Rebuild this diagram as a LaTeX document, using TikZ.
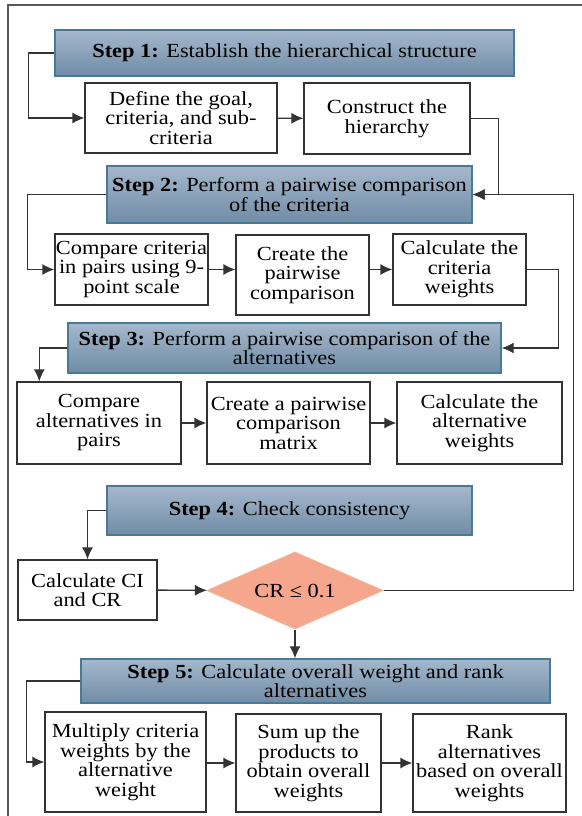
\documentclass[tikz,border=0pt]{standalone}
\usepackage{fontspec}
\setmainfont{Liberation Serif}[FakeStretch=1.12]
\usepackage{tikz}
\usetikzlibrary{arrows.meta,shapes,calc}
\definecolor{stepfill}{RGB}{165,184,204}
\definecolor{stepdark}{RGB}{112,140,166}
\definecolor{stepedge}{RGB}{72,122,152}
\definecolor{crfill}{RGB}{245,166,140}
\definecolor{credge}{RGB}{240,180,150}

\begin{document}
\begin{tikzpicture}[x=1pt,y=-1pt,>={Latex[length=12pt,width=11pt]},font=\fontsize{20}{19.5}\selectfont]
  \tikzstyle{stepbox}=[rectangle,draw=stepedge,line width=1.4pt,top color=stepfill,
  			  bottom color=stepdark,align=center,inner sep=1pt]
  \tikzstyle{task}=[rectangle,draw=black!80,line width=1.2pt,fill=white,
  			  align=center,inner sep=1pt]
  \tikzstyle{check}=[diamond,draw=credge,line width=1pt,fill=crfill,
  			  shape aspect=2.3,inner sep=0pt]
  \tikzstyle{link}=[draw=black!80,line width=1.4pt]
  \useasboundingbox (0,0) rectangle (581,816);
  \draw[black!65,line width=1.3pt] (8,5) rectangle (590,830);

  % step 1
  \node [stepbox,minimum width=459,minimum height=46] (s1) at (284.5,53) {\textbf{Step 1:} Establish the hierarchical structure};
  \node [task,minimum width=192,minimum height=70] (d1) at (181,118) {Define the goal,\\criteria, and sub-\\criteria};
  \node [task,minimum width=166,minimum height=71] (d2) at (387,118.5) {Construct the\\hierarchy};

  % step 2
  \node [stepbox,minimum width=365,minimum height=57] (s2) at (289.5,194.5) {\textbf{Step 2:} Perform a pairwise comparison\\of the criteria};
  \node [task,minimum width=153,minimum height=71] (c1) at (131.5,269.5) {Compare criteria\\in pairs using 9-\\point scale};
  \node [task,minimum width=133,minimum height=80] (c2) at (302.5,275) {Create the\\pairwise\\comparison};
  \node [task,minimum width=133,minimum height=71] (c3) at (459.5,269.5) {Calculate the\\criteria\\weights};

  % step 3
  \node [stepbox,minimum width=433,minimum height=50] (s3) at (284.5,348) {\textbf{Step 3:} Perform a pairwise comparison of the\\alternatives};
  \node [task,minimum width=164,minimum height=82] (a1) at (99,423) {Compare\\alternatives in\\pairs};
  \node [task,minimum width=163,minimum height=82] (a2) at (288.5,423) {Create a pairwise\\comparison\\matrix};
  \node [task,minimum width=165,minimum height=82] (a3) at (479.5,423) {Calculate the\\alternative\\weights};

  % step 4
  \node [stepbox,minimum width=365,minimum height=49] (s4) at (289.5,510.5) {\textbf{Step 4:} Check consistency};
  \node [task,minimum width=139,minimum height=60] (ci) at (87.5,590) {Calculate CI\\and CR};
  \node [check,minimum width=176,minimum height=77] (cr) at (295,590.5) {CR ≤ 0.1};

  % step 5
  \node [stepbox,minimum width=469,minimum height=44] (s5) at (315.5,681) {\textbf{Step 5:} Calculate overall weight and rank\\alternatives};
  \node [task,minimum width=161,minimum height=100] (m1) at (125.5,762) {Multiply criteria\\weights by the\\alternative\\weight};
  \node [task,minimum width=145,minimum height=98] (m2) at (308.5,763) {Sum up the\\products to\\obtain overall\\weights};
  \node [task,minimum width=153,minimum height=98] (m3) at (489.5,763) {Rank\\alternatives\\based on overall\\weights};

  \draw [link,->] (s1.west) -- ++(-26,0) |- (d1.west);
  \draw [link,->] (d1) -- (d2);
  \draw [link,->] (d2.east) -- ++(28,0) |- (s2.east);
  \draw [link,->] (s2.west) -- ++(-79,0) |- (c1.west);
  \draw [link,->] (c1.east) -- (c1.east -| c2.west);
  \draw [link,->] (c1.east -| c2.east) -- (c3.west);
  \draw [link,->] (c3.east) -- ++(32,0) |- (s3.east);
  \draw [link,->] (s3.west) -- ++(-28,0) coordinate (t3) -- (t3 |- a1.north);
  \draw [link,->] (a1) -- (a2);
  \draw [link,->] (a2) -- (a3);
  \draw [link,->] (s4.west) -| (ci.north);
  \draw [link,->] (ci) -- (cr);
  \draw [link,->] (cr.east) -- ++(190,0) |- (s2.east);
  \draw [link,->] (cr.south) -- (cr.south |- s5.north);
  \draw [link,->] (s5.west) -- ++(-54,0) |- (m1.west);
  \draw [link,->] (m1.east |- m2.west) -- (m2.west);
  \draw [link,->] (m2) -- (m3);

\end{tikzpicture}
\end{document}
